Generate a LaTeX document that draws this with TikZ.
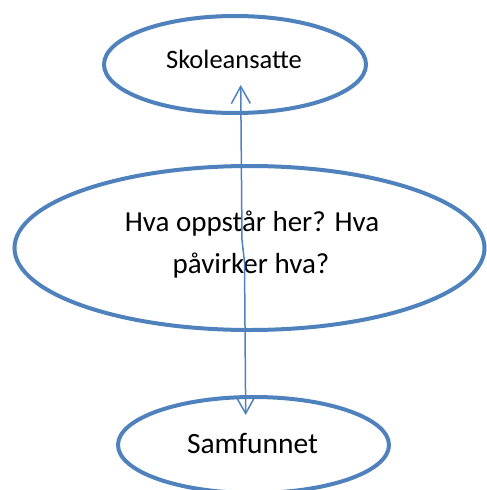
\documentclass[tikz,border=0pt]{standalone}
\usepackage{fontspec}
\setmainfont{Carlito}
\usetikzlibrary{shapes.geometric,arrows.meta}
\definecolor{ofblue}{HTML}{4F81BD}
\begin{document}
\begin{tikzpicture}[x=1pt,y=-1pt,
  ell/.style={ellipse,draw=ofblue,line width=4pt,inner sep=0pt,fill=none},
  txt/.style={text=black,inner sep=0pt,anchor=base},
  conn/.style={draw=ofblue,line width=1.5pt,
    {Straight Barb[length=17pt,width=19pt]}-{Straight Barb[length=17pt,width=19pt]}}]
\useasboundingbox (0,0) rectangle (487,490);
\node[ell,minimum width=262pt,minimum height=97pt] (skole) at (235,64.5) {};
\node[ell,minimum width=470pt,minimum height=164pt] (midt) at (249.5,248) {};
\node[ell,minimum width=271pt,minimum height=96pt] (samf) at (253.5,445) {};
\node[txt,font=\fontsize{26.5}{32}\selectfont] (skoletxt) at (234,68.5) {Skoleansatte};
\node[txt,font=\fontsize{29}{42}\selectfont] (midttxt1) at (252,231.5) {Hva oppstår her? Hva};
\node[txt,font=\fontsize{29}{42}\selectfont] (midttxt2) at (251,273) {påvirker hva?};
\node[txt,font=\fontsize{29.5}{36}\selectfont] (samftxt) at (252.5,453) {Samfunnet};
\coordinate (atop) at (240.7,85);
\coordinate (abot) at (245.7,415);
\draw[conn] (atop) -- (242,240) -- (244.5,262) -- (abot);
\end{tikzpicture}
\end{document}
